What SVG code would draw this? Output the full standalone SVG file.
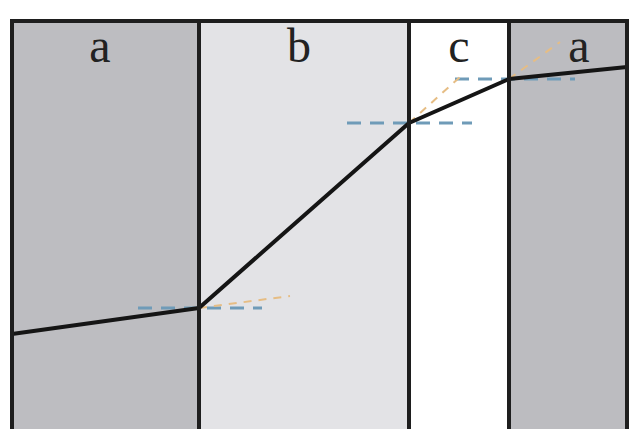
<svg xmlns="http://www.w3.org/2000/svg" width="631" height="429" viewBox="0 0 631 429">
<style>
.lbl{font-family:"Liberation Serif","Times New Roman",serif;font-size:48px;fill:#222;text-anchor:middle}
.wall{stroke:#1e1e1e;stroke-width:4;fill:none}
.blue{stroke:#6f9bb8;stroke-width:3;stroke-dasharray:14 9;fill:none}
.orange{stroke:#e6bd84;stroke-width:2;stroke-dasharray:8 7;fill:none}
.ray{stroke:#151515;stroke-width:4;fill:none;stroke-linejoin:round}
</style>
<rect width="631" height="429" fill="#ffffff"/>
<g id="region-a-left"><rect x="12" y="21" width="187" height="410" fill="#bdbdc1"/><text class="lbl" x="100" y="62">a</text></g>
<g id="region-b"><rect x="199" y="21" width="210" height="410" fill="#e3e3e6"/><text class="lbl" x="299" y="62">b</text></g>
<g id="region-c"><rect x="409" y="21" width="100" height="410" fill="#ffffff"/><text class="lbl" x="459" y="62">c</text></g>
<g id="region-a-right"><rect x="509" y="21" width="118" height="410" fill="#bcbcc0"/><text class="lbl" x="579" y="62">a</text></g>
<g id="connectors">
<line class="blue" x1="138" y1="308" x2="262" y2="308"/>
<line class="blue" x1="347" y1="123" x2="472" y2="123"/>
<line class="blue" x1="455" y1="79" x2="575" y2="79"/>
<line class="orange" x1="199" y1="308" x2="290" y2="296"/>
<line class="orange" x1="409" y1="123" x2="460" y2="77"/>
<line class="orange" x1="509" y1="79" x2="560" y2="42"/>
<polyline class="ray" points="12,334 199,308 409,123 509,79 627,67"/>
<path class="wall" d="M12,432 V21 H627 V432 M199,21 V432 M409,21 V432 M509,21 V432"/>
</g>
</svg>
